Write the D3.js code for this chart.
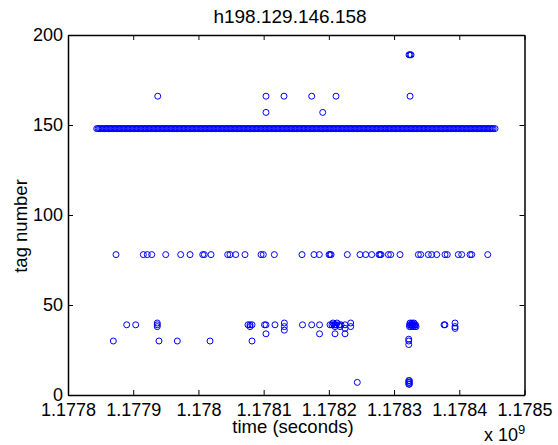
<!DOCTYPE html>
<html>
<head>
<meta charset="utf-8">
<script src="https://cdn.jsdelivr.net/npm/d3@7"></script>
<style>
  body { margin: 0; background: #fff; }
  text { font-family: "Liberation Sans", Arial, Helvetica, sans-serif; fill: #000; }
</style>
</head>
<body>
<svg id="chart"></svg>
<script>
var width = 558;
var height = 445;
var plotLeft = 68, plotRight = 524.5, plotTop = 35, plotBottom = 395;

// time axis ticks (x 10^9 seconds)
var xTicks = [1.1778, 1.1779, 1.178, 1.1781, 1.1782, 1.1783, 1.1784, 1.1785];
var xTickLabels = ["1.1778", "1.1779", "1.178", "1.1781", "1.1782", "1.1783", "1.1784", "1.1785"];
var yTicks = [0, 50, 100, 150, 200];

// observation times, kiloseconds after T0, one array per tag number
var T0 = 1177800000;
var t189 = [522.9, 524.5, 526.0];
var t166 = [137.6, 303.6, 331.2, 373.7, 411.0, 524.5];
var t157 = [303.6, 390.6];
// tag 148 is seen almost continuously, the marks merge into a solid band
var t148 = [44.0, 46.1, 48.0, 50.1, 52.0, 54.1, 56.0, 58.1, 60.0, 62.1, 64.0, 66.1, 68.0, 70.1, 72.0,
  74.1, 76.0, 78.1, 80.0, 82.1, 84.0, 86.1, 88.0, 90.1, 92.0, 94.1, 96.0, 98.1, 100.0, 102.1,
  104.0, 106.1, 108.0, 110.1, 112.0, 114.1, 116.0, 118.1, 120.0, 122.1, 124.0, 126.1, 128.0, 130.1, 132.0,
  134.1, 136.0, 138.1, 140.0, 142.1, 144.0, 146.1, 148.0, 150.1, 152.0, 154.1, 156.0, 158.1, 160.0, 162.1,
  164.0, 166.1, 168.0, 170.1, 172.0, 174.1, 176.0, 178.1, 180.0, 182.1, 184.0, 186.1, 188.0, 190.1, 192.0,
  194.1, 196.0, 198.1, 200.0, 202.1, 204.0, 206.1, 208.0, 210.1, 212.0, 214.1, 216.0, 218.1, 220.0, 222.1,
  224.0, 226.1, 228.0, 230.1, 232.0, 234.1, 236.0, 238.1, 240.0, 242.1, 244.0, 246.1, 248.0, 250.1, 252.0,
  254.1, 256.0, 258.1, 260.0, 262.1, 264.0, 266.1, 268.0, 270.1, 272.0, 274.1, 276.0, 278.1, 280.0, 282.1,
  284.0, 286.1, 288.0, 290.1, 292.0, 294.1, 296.0, 298.1, 300.0, 302.1, 304.0, 306.1, 308.0, 310.1, 312.0,
  314.1, 316.0, 318.1, 320.0, 322.1, 324.0, 326.1, 328.0, 330.1, 332.0, 334.1, 336.0, 338.1, 340.0, 342.1,
  344.0, 346.1, 348.0, 350.1, 352.0, 354.1, 356.0, 358.1, 360.0, 362.1, 364.0, 366.1, 368.0, 370.1, 372.0,
  374.1, 376.0, 378.1, 380.0, 382.1, 384.0, 386.1, 388.0, 390.1, 392.0, 394.1, 396.0, 398.1, 400.0, 402.1,
  404.0, 406.1, 408.0, 410.1, 412.0, 414.1, 416.0, 418.1, 420.0, 422.1, 424.0, 426.1, 428.0, 430.1, 432.0,
  434.1, 436.0, 438.1, 440.0, 442.1, 444.0, 446.1, 448.0, 450.1, 452.0, 454.1, 456.0, 458.1, 460.0, 462.1,
  464.0, 466.1, 468.0, 470.1, 472.0, 474.1, 476.0, 478.1, 480.0, 482.1, 484.0, 486.1, 488.0, 490.1, 492.0,
  494.1, 496.0, 498.1, 500.0, 502.1, 504.0, 506.1, 508.0, 510.1, 512.0, 514.1, 516.0, 518.1, 520.0, 522.1,
  524.0, 526.1, 528.0, 530.1, 532.0, 534.1, 536.0, 538.1, 540.0, 542.1, 544.0, 546.1, 548.0, 550.1, 552.0,
  554.1, 556.0, 558.1, 560.0, 562.1, 564.0, 566.1, 568.0, 570.1, 572.0, 574.1, 576.0, 578.1, 580.0, 582.1,
  584.0, 586.1, 588.0, 590.1, 592.0, 594.1, 596.0, 598.1, 600.0, 602.1, 604.0, 606.1, 608.0, 610.1, 612.0,
  614.1, 616.0, 618.1, 620.0, 622.1, 624.0, 626.1, 628.0, 630.1, 632.0, 634.1, 636.0, 638.1, 640.0, 642.1,
  644.0, 646.1, 648.0, 650.1, 652.0, 654.8];
var t78 = [73.6, 115.5, 121.6, 128.4, 149.8, 172.8, 187.1, 206.6, 209.0, 219.3, 244.9, 248.4, 257.2,
  271.4, 296.0, 299.5, 316.4, 358.8, 377.2, 385.4, 400.3, 401.8, 403.4, 428.3, 447.8, 456.5, 465.7,
  476.9, 478.4, 480.0, 491.2, 494.9, 509.1, 537.2, 540.9, 552.5, 557.7, 565.4, 578.1, 581.6, 598.5,
  603.7, 616.5, 619.1, 643.6];
var t40 = [136.9, 331.7, 406.4, 412.5, 433.5, 524.5, 527.5, 530.5, 593.5];
var t39 = [90.0, 103.8, 136.9, 276.0, 279.1, 282.2, 301.3, 303.6, 317.4, 359.6, 373.7, 385.7, 401.8,
  404.8, 407.9, 409.4, 411.0, 415.6, 418.6, 424.8, 523.7, 525.2, 526.8, 528.3, 529.8, 531.4, 532.9,
  576.6, 578.0];
var t38 = [136.9, 279.1, 331.7, 409.4, 417.1, 433.5, 523.7, 526.0, 529.0, 532.0, 533.7, 593.5];
var t37 = [424.8, 593.5];
var t36 = [331.7];
var t34 = [303.6, 385.7, 409.4, 424.8];
var t31 = [522.5];
var t30 = [69.5, 139.5, 167.6, 217.8, 282.2, 522.5];
var t28 = [522.5];
var t8 = [522.5, 523.5];
var t7 = [443.6, 522.5, 523.5];
var t6 = [522.5, 523.5];

var rows = [[189, t189], [166, t166], [157, t157], [148, t148], [78, t78], [40, t40], [39, t39],
  [38, t38], [37, t37], [36, t36], [34, t34], [31, t31], [30, t30], [28, t28], [8, t8], [7, t7], [6, t6]];

var points = [];
rows.forEach(function(r) {
  r[1].forEach(function(k) { points.push({time: T0 + k * 1000, tag: r[0]}); });
});

var svg = d3.select("#chart")
    .attr("width", width)
    .attr("height", height);

var xScale = d3.scaleLinear()
    .domain([xTicks[0] * 1e9, xTicks[xTicks.length - 1] * 1e9])
    .range([plotLeft, plotRight]);
var yScale = d3.scaleLinear()
    .domain([0, 200])
    .range([plotBottom, plotTop]);

var xAxis = d3.axisBottom(xScale)
    .tickValues(xTicks.map(v => v * 1e9))
    .tickFormat((d, i) => xTickLabels[i])
    .tickSize(-5)
    .tickSizeOuter(0)
    .tickPadding(8);
var xAxisTop = d3.axisTop(xScale)
    .tickValues(xTicks.map(v => v * 1e9))
    .tickFormat("")
    .tickSize(-5)
    .tickSizeOuter(0);
var yAxis = d3.axisLeft(yScale)
    .tickValues(yTicks)
    .tickSize(-5)
    .tickSizeOuter(0)
    .tickPadding(5);
var yAxisRight = d3.axisRight(yScale)
    .tickValues(yTicks)
    .tickFormat("")
    .tickSize(-5)
    .tickSizeOuter(0);

function styleAxis(g) {
  g.select(".domain").attr("stroke", "#000").attr("stroke-width", 1.5);
  g.selectAll(".tick line").attr("stroke", "#000").attr("stroke-width", 1);
  g.selectAll(".tick text").style("font-size", "18px").attr("fill", "#000");
}

svg.append("g")
    .attr("transform", `translate(0, ${plotBottom})`)
    .call(xAxis)
    .call(styleAxis);
svg.append("g")
    .attr("transform", `translate(0, ${plotTop})`)
    .call(xAxisTop)
    .call(styleAxis);
svg.append("g")
    .attr("transform", `translate(${plotLeft}, 0)`)
    .call(yAxis)
    .call(styleAxis);
svg.append("g")
    .attr("transform", `translate(${plotRight}, 0)`)
    .call(yAxisRight)
    .call(styleAxis);

svg.append("g")
    .selectAll("circle")
    .data(points)
    .enter()
    .append("circle")
    .attr("cx", d => xScale(d.time))
    .attr("cy", d => yScale(d.tag))
    .attr("r", 3)
    .attr("fill", "none")
    .attr("stroke", "#0000ff")
    .attr("stroke-width", 1);

svg.append("text")
    .attr("x", 290)
    .attr("y", 23)
    .attr("text-anchor", "middle")
    .style("font-size", "19px")
    .text("h198.129.146.158");

svg.append("text")
    .attr("x", 293)
    .attr("y", 433)
    .attr("text-anchor", "middle")
    .style("font-size", "18.5px")
    .text("time (seconds)");

svg.append("text")
    .attr("transform", "rotate(-90)")
    .attr("x", -226)
    .attr("y", 27)
    .attr("text-anchor", "middle")
    .style("font-size", "18.5px")
    .text("tag number");

var mult = svg.append("text")
    .attr("x", 484)
    .attr("y", 441)
    .style("font-size", "18px");
mult.append("tspan").text("x 10");
mult.append("tspan")
    .attr("dy", -7)
    .style("font-size", "13px")
    .text("9");
</script>
</body>
</html>
